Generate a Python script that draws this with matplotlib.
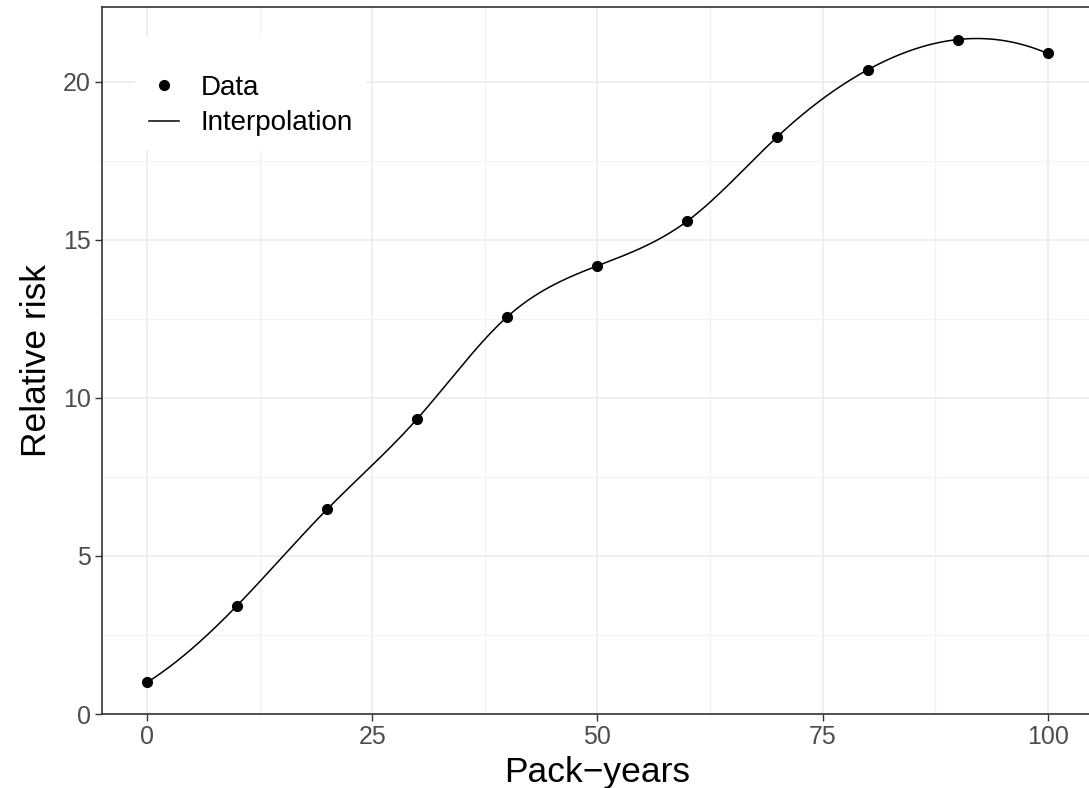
import numpy as np
import matplotlib.pyplot as plt
from matplotlib.ticker import MultipleLocator

plt.rcParams['font.family'] = ['Liberation Sans', 'DejaVu Sans']

pack_years = [0, 10, 20, 30, 40, 50, 60, 70, 80, 90, 100]
rel_risk = [1.0, 3.43, 6.48, 9.34, 12.57, 14.18, 15.6, 18.27, 20.38, 21.34, 20.9]


def divdiff(xs, ys):
    # third divided difference of 4 points
    c = list(ys)
    for k in range(1, len(xs)):
        c = [(c[i + 1] - c[i]) / (xs[i + k] - xs[i]) for i in range(len(c) - 1)]
    return c[0]


def fmm_spline(x, y, xs):
    # cubic spline, Forsythe-Malcolm-Moler end conditions (like R's spline())
    x = np.asarray(x, float)
    y = np.asarray(y, float)
    n = len(x)
    h = np.diff(x)
    A = np.zeros((n, n))
    b = np.zeros(n)
    for i in range(1, n - 1):
        A[i, i - 1] = h[i - 1]
        A[i, i] = 2 * (h[i - 1] + h[i])
        A[i, i + 1] = h[i]
        b[i] = 6 * ((y[i + 1] - y[i]) / h[i] - (y[i] - y[i - 1]) / h[i - 1])
    A[0, 0], A[0, 1] = -1, 1
    b[0] = 6 * h[0] * divdiff(x[:4], y[:4])
    A[-1, -2], A[-1, -1] = -1, 1
    b[-1] = 6 * h[-1] * divdiff(x[-4:], y[-4:])
    M = np.linalg.solve(A, b)
    idx = np.clip(np.searchsorted(x, xs) - 1, 0, n - 2)
    x0, x1 = x[idx], x[idx + 1]
    hh = x1 - x0
    return (M[idx] * (x1 - xs) ** 3 / (6 * hh) + M[idx + 1] * (xs - x0) ** 3 / (6 * hh)
            + (y[idx] / hh - M[idx] * hh / 6) * (x1 - xs)
            + (y[idx + 1] / hh - M[idx + 1] * hh / 6) * (xs - x0))


xs = np.linspace(pack_years[0], pack_years[-1], 500)
ys = fmm_spline(pack_years, rel_risk, xs)

fig = plt.figure(figsize=(10.89, 7.88), dpi=100)
ax = fig.add_axes([102 / 1089, 1 - 714 / 788, 990.7 / 1089, 707 / 788])

ax.plot(pack_years, rel_risk, 'o', color='black', ms=7, label='Data', zorder=3)
ax.plot(xs, ys, '-', color='black', lw=1.1, label='Interpolation', zorder=2)

ax.set_xlim(-5, 105)
ax.set_ylim(0, 22.37)
ax.xaxis.set_major_locator(MultipleLocator(25))
ax.xaxis.set_minor_locator(MultipleLocator(12.5))
ax.yaxis.set_major_locator(MultipleLocator(5))
ax.yaxis.set_minor_locator(MultipleLocator(2.5))
ax.grid(which='major', color='#EBEBEB', lw=1.1)
ax.grid(which='minor', color='#F2F2F2', lw=0.9)
ax.set_axisbelow(True)
ax.tick_params(which='major', length=5, width=1.0, color='#333333',
               labelsize=18, labelcolor='#4D4D4D', pad=3)
ax.tick_params(which='minor', length=0)
for s in ax.spines.values():
    s.set_color('#333333')
    s.set_linewidth(1.2)

ax.set_xlabel('Pack\u2212years', fontsize=25.5, labelpad=5)
ax.set_ylabel('Relative risk', fontsize=25.5, labelpad=7)

leg = ax.legend(loc='upper left', bbox_to_anchor=(135 / 1089, 1 - 37 / 788),
                bbox_transform=fig.transFigure, fontsize=20, frameon=True,
                fancybox=False, edgecolor='none', facecolor='white', framealpha=1,
                handlelength=1.1, handletextpad=0.75, labelspacing=0.35,
                borderpad=0.5, borderaxespad=0, title=' ', title_fontsize=10)

fig.savefig('out.png', dpi=100)
